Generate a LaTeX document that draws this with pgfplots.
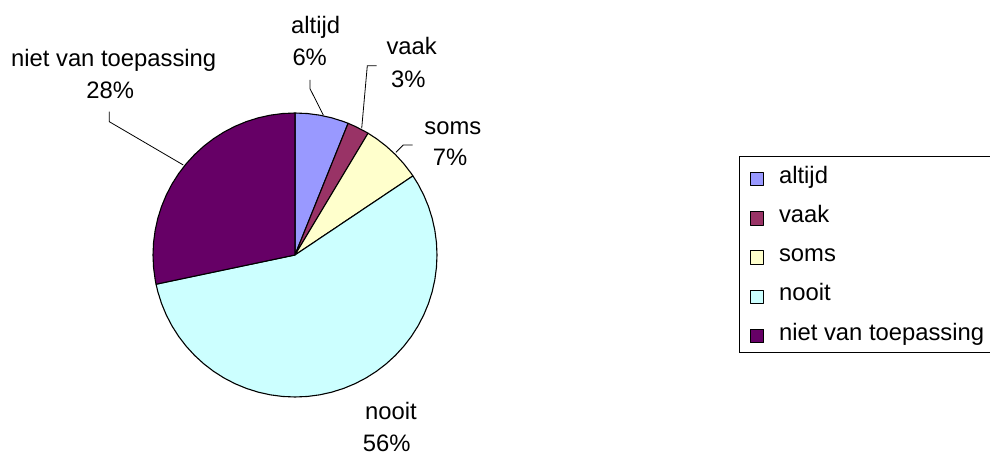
\documentclass[border=0pt]{standalone}
\usepackage{pgfplots}
\pgfplotsset{compat=1.18}
\usepgfplotslibrary{polar}
\usepackage{fontspec}
\setmainfont{Liberation Sans}
\definecolor{cAltijd}{HTML}{9999FF}
\definecolor{cVaak}{HTML}{993366}
\definecolor{cSoms}{HTML}{FFFFCC}
\definecolor{cNooit}{HTML}{CCFFFF}
\definecolor{cNiet}{HTML}{660066}
\newcommand{\lbl}{\fontsize{23.8}{28}\selectfont}
\begin{document}
% shares (percent): altijd 6.1, vaak 2.5, soms 7.0, nooit 56.1, niet van toepassing 28.3
% slice boundaries (degrees, clockwise from top): 90, 68.04, 59.04, 33.84, -168.12, -270
\begin{tikzpicture}
\begin{axis}[
  x=1pt, y=1pt,
  xmin=-295, xmax=695, ymin=-200, ymax=255,
  hide axis, clip=false,
  every axis plot/.append style={draw=black, line width=1.1pt, line join=round},
  legend style={
    at={(axis cs:444.3,99)}, anchor=north west,
    draw=black, line width=0.9pt, fill=white,
    inner xsep=10pt, inner ysep=9.15pt,
    font=\lbl, row sep=17.9pt,
    nodes={inner sep=0pt, text height=17.7pt, text depth=3.6pt},
    /tikz/every odd column/.append style={column sep=15pt},
  },
  legend cell align=left,
  legend image code/.code={\draw[#1, line width=0.9pt] (0pt,-9.7pt) rectangle (13.4pt,3.7pt);},
]
\addplot[fill=cAltijd, data cs=polar] coordinates {(0,0) (90,142) (85,142) (80,142) (75,142) (70,142) (68.04,142)} -- cycle;
\addlegendentry{altijd}
\addplot[fill=cVaak, data cs=polar] coordinates {(0,0) (68.04,142) (65,142) (60,142) (59.04,142)} -- cycle;
\addlegendentry{vaak}
\addplot[fill=cSoms, data cs=polar] coordinates {(0,0) (59.04,142) (55,142) (50,142) (45,142) (40,142) (35,142) (33.84,142)} -- cycle;
\addlegendentry{soms}
\addplot[fill=cNooit, data cs=polar] coordinates {(0,0) (33.84,142) (30,142) (25,142) (20,142) (15,142) (10,142) (5,142) (0,142)
 (-5,142) (-10,142) (-15,142) (-20,142) (-25,142) (-30,142) (-35,142) (-40,142) (-45,142) (-50,142) (-55,142) (-60,142)
 (-65,142) (-70,142) (-75,142) (-80,142) (-85,142) (-90,142) (-95,142) (-100,142) (-105,142) (-110,142) (-115,142) (-120,142)
 (-125,142) (-130,142) (-135,142) (-140,142) (-145,142) (-150,142) (-155,142) (-160,142) (-165,142) (-168.12,142)} -- cycle;
\addlegendentry{nooit}
\addplot[fill=cNiet, data cs=polar] coordinates {(0,0) (-168.12,142) (-170,142) (-175,142) (-180,142) (-185,142) (-190,142)
 (-195,142) (-200,142) (-205,142) (-210,142) (-215,142) (-220,142) (-225,142) (-230,142) (-235,142) (-240,142) (-245,142)
 (-250,142) (-255,142) (-260,142) (-265,142) (-270,142)} -- cycle;
\addlegendentry{niet van toepassing}
% leader lines
\draw[black, line width=0.8pt] (axis cs:-185.7,143.3) -- (axis cs:-185.7,133.3) -- (axis cs:-111.7,90);
\draw[black, line width=0.8pt] (axis cs:15,175) -- (axis cs:15,166.3) -- (axis cs:28.3,140);
\draw[black, line width=0.8pt] (axis cs:81.7,189.3) -- (axis cs:72.3,189.3) -- (axis cs:66.7,126.7);
\draw[black, line width=0.8pt] (axis cs:117.7,110) -- (axis cs:108.3,110) -- (axis cs:101,102.7);
% labels
\begin{scope}[every node/.style={font=\lbl, anchor=base, inner sep=0pt}]
\node at (axis cs:-181.3,188.3) {niet van toepassing};
\node at (axis cs:-184.7,156.7) {28\%};
\node at (axis cs:20.7,221.7) {altijd};
\node at (axis cs:14.7,189.3) {6\%};
\node at (axis cs:116.7,200) {vaak};
\node at (axis cs:113.3,167.7) {3\%};
\node at (axis cs:157.8,120) {soms};
\node at (axis cs:155,89.3) {7\%};
\node at (axis cs:96,-165) {nooit};
\node at (axis cs:91.7,-196.7) {56\%};
\end{scope}
\coordinate (SW) at (rel axis cs:0,0);
\coordinate (NE) at (rel axis cs:1,1);
\end{axis}
\pgfresetboundingbox
\useasboundingbox (SW) rectangle (NE);
\end{tikzpicture}
\end{document}
